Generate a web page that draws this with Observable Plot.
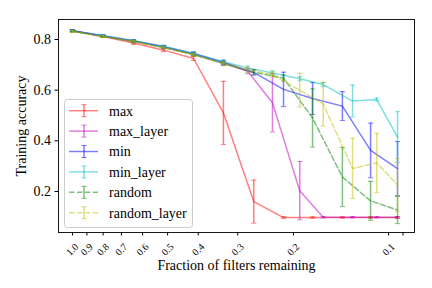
<!DOCTYPE html>
<html><head><meta charset="utf-8">
<script src="https://cdn.jsdelivr.net/npm/d3@7"></script>
<script src="https://cdn.jsdelivr.net/npm/@observablehq/plot@0.6"></script>
<style>body{margin:0;background:#fff;} #chart{width:432px;height:288px;}</style>
</head><body><div id="chart"></div>
<script>
const seriesNames = ["max", "max_layer", "min", "min_layer", "random", "random_layer"];
const seriesColors = ["#ff0000", "#bf00bf", "#0000ff", "#00bfbf", "#008000", "#bfbf00"];
const seriesDashed = [false, false, false, false, true, true];

const xGlobal = [1.0, 0.8, 0.641, 0.515, 0.414, 0.333, 0.267, 0.215, 0.174, 0.140, 0.114, 0.0937];
const xLayer  = [1.0, 0.8, 0.641, 0.515, 0.414, 0.333, 0.279, 0.233, 0.191, 0.161, 0.130, 0.109, 0.0937];

const maxAcc = [0.835, 0.812, 0.786, 0.758, 0.725, 0.51, 0.16, 0.097, 0.097, 0.097, 0.097, 0.097];
const maxErr = [0.004, 0.004, 0.006, 0.006, 0.008, 0.125, 0.085, 0.003, 0.003, 0.003, 0.003, 0.003];
const maxLayerAcc = [0.835, 0.813, 0.793, 0.77, 0.742, 0.706, 0.675, 0.55, 0.203, 0.098, 0.098, 0.098, 0.098];
const maxLayerErr = [0.004, 0.004, 0.005, 0.005, 0.006, 0.008, 0.01, 0.115, 0.115, 0.003, 0.003, 0.003, 0.003];
const minAcc = [0.835, 0.815, 0.795, 0.772, 0.745, 0.71, 0.67, 0.603, 0.567, 0.537, 0.362, 0.29];
const minErr = [0.004, 0.004, 0.005, 0.005, 0.006, 0.008, 0.01, 0.068, 0.063, 0.057, 0.108, 0.107];
const minLayerAcc = [0.835, 0.815, 0.795, 0.772, 0.745, 0.712, 0.688, 0.668, 0.645, 0.622, 0.557, 0.563, 0.415];
const minLayerErr = [0.004, 0.004, 0.005, 0.005, 0.006, 0.007, 0.007, 0.008, 0.008, 0.008, 0.063, 0.006, 0.1];
const randAcc = [0.832, 0.812, 0.792, 0.768, 0.74, 0.705, 0.67, 0.648, 0.49, 0.257, 0.163, 0.127];
const randErr = [0.004, 0.004, 0.005, 0.005, 0.006, 0.008, 0.01, 0.012, 0.115, 0.117, 0.077, 0.054];
const randLayerAcc = [0.832, 0.812, 0.792, 0.768, 0.74, 0.705, 0.68, 0.662, 0.6, 0.545, 0.291, 0.313, 0.225];
const randLayerErr = [0.004, 0.004, 0.005, 0.005, 0.006, 0.008, 0.01, 0.01, 0.067, 0.087, 0.119, 0.117, 0.105];

const xTicks = [1.0, 0.9, 0.8, 0.7, 0.6, 0.5, 0.4, 0.3, 0.2, 0.1];
const xMinorTicks = [0.09];
const yTicks = [0.2, 0.4, 0.6, 0.8];

const seriesX = [xGlobal, xLayer, xGlobal, xLayer, xGlobal, xLayer];
const seriesY = [maxAcc, maxLayerAcc, minAcc, minLayerAcc, randAcc, randLayerAcc];
const seriesE = [maxErr, maxLayerErr, minErr, minLayerErr, randErr, randLayerErr];

const capSymbol = {draw(ctx, size) { const h = Math.sqrt(size / Math.PI); ctx.moveTo(-h, 0); ctx.lineTo(h, 0); }};

const marks = [];
seriesNames.forEach((name, i) => {
  const rows = seriesX[i].map((x, j) => ({series: name, x, y: seriesY[i][j], e: seriesE[i][j]}));
  const c = seriesColors[i];
  marks.push(Plot.line(rows, {x: "x", y: "y", stroke: c, strokeOpacity: 0.5, strokeWidth: 1.5,
    strokeDasharray: seriesDashed[i] ? "5.5,2.4" : null}));
  marks.push(Plot.ruleX(rows, {x: "x", y1: d => d.y - d.e, y2: d => d.y + d.e, stroke: c, strokeOpacity: 0.5, strokeWidth: 1.5}));
  marks.push(Plot.dot(rows, {x: "x", y: d => d.y + d.e, symbol: capSymbol, r: 2.6, stroke: c, strokeOpacity: 0.5, strokeWidth: 1, fill: "none"}));
  marks.push(Plot.dot(rows, {x: "x", y: d => d.y - d.e, symbol: capSymbol, r: 2.6, stroke: c, strokeOpacity: 0.5, strokeWidth: 1, fill: "none"}));
});

const chart = Plot.plot({
  width: 432, height: 288,
  marginLeft: 58, marginRight: 18, marginTop: 19, marginBottom: 56,
  style: {fontFamily: "'Liberation Serif', 'DejaVu Serif', serif", fontSize: "14px", background: "white", color: "black"},
  x: {type: "log", domain: [1.107, 0.0828]},
  y: {domain: [0.038, 0.879]},
  marks: [
    ...marks,
    Plot.frame({stroke: "black", strokeWidth: 0.9}),
    Plot.axisY({ticks: yTicks, tickFormat: ".1f", tickSize: 3.5, tickPadding: 4, fontSize: 14, label: null}),
    Plot.axisX({ticks: [...xTicks, ...xMinorTicks], tickFormat: () => "", tickSize: 3.5, label: null}),
    Plot.text(xTicks, {x: d => d, text: d => d.toFixed(1), frameAnchor: "bottom", dy: 17, rotate: -45,
      fontSize: 10, textAnchor: "middle", lineAnchor: "middle"}),
    Plot.text(["Fraction of filters remaining"], {frameAnchor: "bottom", dy: 33, fontSize: 14, textAnchor: "middle", lineAnchor: "middle"}),
    Plot.text(["Training accuracy"], {frameAnchor: "left", dx: -37, rotate: -90, fontSize: 14, textAnchor: "middle", lineAnchor: "middle"})
  ]
});
document.getElementById("chart").appendChild(chart);

// legend
const svg = d3.select(chart);
const lg = svg.append("g");
lg.append("rect").attr("x", 64.5).attr("y", 99.5).attr("width", 128).attr("height", 128).attr("rx", 3)
  .attr("fill", "white").attr("fill-opacity", 0.8).attr("stroke", "#cccccc").attr("stroke-width", 1);
seriesNames.forEach((name, i) => {
  const cy = 110.7 + i * 20.4;
  const g = lg.append("g").attr("stroke", seriesColors[i]).attr("stroke-opacity", 0.5);
  g.append("line").attr("x1", 69).attr("x2", 98).attr("y1", cy).attr("y2", cy).attr("stroke-width", 1.5)
    .attr("stroke-dasharray", seriesDashed[i] ? "5.5,2.4" : null);
  g.append("line").attr("x1", 84).attr("x2", 84).attr("y1", cy - 6).attr("y2", cy + 6).attr("stroke-width", 1.5);
  g.append("line").attr("x1", 81.4).attr("x2", 86.6).attr("y1", cy - 6).attr("y2", cy - 6).attr("stroke-width", 1);
  g.append("line").attr("x1", 81.4).attr("x2", 86.6).attr("y1", cy + 6).attr("y2", cy + 6).attr("stroke-width", 1);
  lg.append("text").attr("x", 109).attr("y", cy + 4.8).attr("font-size", 14).attr("text-anchor", "start")
    .attr("fill", "black").text(name);
});
</script></body></html>
